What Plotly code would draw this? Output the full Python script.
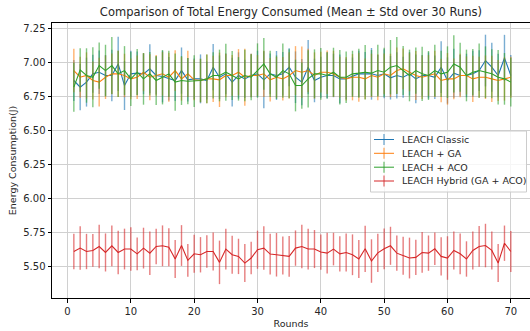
import plotly.graph_objects as go

rounds = list(range(1, 71))

classic_mean = [6.868, 6.819, 6.856, 6.917, 6.929, 6.905, 6.905, 6.990, 6.831, 6.917,
                6.922, 6.917, 6.954, 6.905, 6.897, 6.880, 6.868, 6.941, 6.873, 6.880,
                6.880, 6.868, 6.966, 6.892, 6.917, 6.856, 6.905, 6.880, 6.905, 6.917,
                6.873, 6.917, 6.905, 6.917, 6.966, 6.892, 6.856, 6.966, 6.868, 6.892,
                6.905, 6.905, 6.880, 6.880, 6.897, 6.917, 6.917, 6.917, 6.905, 6.917,
                6.888, 6.905, 6.892, 6.917, 6.880, 6.905, 6.905, 6.892, 6.966, 6.868,
                6.922, 6.905, 6.905, 6.917, 6.941, 7.015, 6.966, 6.905, 7.034, 6.905]
classic_std = [0.15, 0.17, 0.18, 0.14, 0.16, 0.15, 0.19, 0.20, 0.18, 0.17,
               0.16, 0.15, 0.18, 0.14, 0.19, 0.16, 0.15, 0.17, 0.16, 0.15,
               0.18, 0.14, 0.17, 0.16, 0.15, 0.18, 0.17, 0.14, 0.16, 0.17,
               0.21, 0.15, 0.18, 0.16, 0.14, 0.19, 0.17, 0.20, 0.16, 0.15,
               0.17, 0.16, 0.18, 0.15, 0.14, 0.17, 0.16, 0.19, 0.15, 0.18,
               0.16, 0.17, 0.15, 0.16, 0.18, 0.15, 0.17, 0.16, 0.19, 0.17,
               0.18, 0.15, 0.16, 0.17, 0.15, 0.19, 0.18, 0.16, 0.17, 0.15]

ga_mean = [6.941, 6.892, 6.905, 6.868, 6.856, 6.892, 6.917, 6.917, 6.905, 6.880,
           6.892, 6.929, 6.892, 6.905, 6.917, 6.892, 6.941, 6.880, 6.917, 6.873,
           6.868, 6.880, 6.880, 6.873, 6.905, 6.905, 6.929, 6.892, 6.905, 6.905,
           6.917, 6.873, 6.892, 6.880, 6.905, 6.941, 6.929, 6.941, 6.905, 6.929,
           6.929, 6.917, 6.892, 6.880, 6.892, 6.892, 6.880, 6.905, 6.892, 6.917,
           6.905, 6.941, 6.954, 6.929, 6.905, 6.892, 6.905, 6.917, 6.868, 6.880,
           6.880, 6.905, 6.905, 6.880, 6.892, 6.892, 6.880, 6.868, 6.880, 6.892]
ga_std = [0.16, 0.15, 0.17, 0.14, 0.18, 0.16, 0.15, 0.17, 0.16, 0.15,
          0.16, 0.14, 0.17, 0.15, 0.16, 0.18, 0.15, 0.16, 0.17, 0.15,
          0.16, 0.18, 0.17, 0.20, 0.16, 0.15, 0.17, 0.21, 0.16, 0.15,
          0.17, 0.16, 0.15, 0.16, 0.17, 0.18, 0.19, 0.16, 0.17, 0.15,
          0.16, 0.17, 0.15, 0.16, 0.17, 0.18, 0.15, 0.16, 0.17, 0.15,
          0.16, 0.17, 0.15, 0.14, 0.18, 0.16, 0.15, 0.17, 0.16, 0.19,
          0.15, 0.16, 0.14, 0.17, 0.15, 0.16, 0.17, 0.15, 0.16, 0.15]

aco_mean = [6.819, 6.946, 6.905, 6.892, 6.978, 6.941, 6.978, 6.917, 6.941, 6.880,
            6.929, 6.880, 6.917, 6.868, 6.892, 6.917, 6.856, 6.868, 6.863, 6.863,
            6.868, 6.880, 6.905, 6.905, 6.929, 6.905, 6.880, 6.905, 6.892, 6.941,
            6.990, 6.917, 6.892, 6.941, 6.917, 6.831, 6.831, 6.880, 6.917, 6.917,
            6.905, 6.929, 6.892, 6.892, 6.917, 6.922, 6.929, 6.922, 6.941, 6.929,
            6.966, 6.978, 6.941, 6.905, 6.941, 6.917, 6.905, 6.941, 6.917, 6.929,
            6.990, 6.966, 6.905, 6.929, 6.941, 6.929, 6.917, 6.892, 6.880, 6.856]
aco_std = [0.18, 0.16, 0.20, 0.22, 0.17, 0.19, 0.21, 0.17, 0.18, 0.20,
           0.17, 0.19, 0.16, 0.18, 0.20, 0.17, 0.21, 0.18, 0.17, 0.19,
           0.16, 0.18, 0.17, 0.19, 0.21, 0.18, 0.16, 0.19, 0.17, 0.20,
           0.19, 0.17, 0.16, 0.20, 0.18, 0.19, 0.17, 0.21, 0.18, 0.19,
           0.17, 0.18, 0.20, 0.19, 0.17, 0.18, 0.20, 0.17, 0.19, 0.18,
           0.20, 0.21, 0.18, 0.19, 0.17, 0.20, 0.18, 0.19, 0.17, 0.19,
           0.21, 0.18, 0.19, 0.17, 0.20, 0.19, 0.18, 0.20, 0.19, 0.18]

hybrid_mean = [5.610, 5.635, 5.610, 5.618, 5.647, 5.603, 5.652, 5.603, 5.628, 5.628,
               5.593, 5.635, 5.598, 5.647, 5.652, 5.642, 5.555, 5.654, 5.545, 5.593,
               5.586, 5.610, 5.610, 5.530, 5.628, 5.586, 5.574, 5.525, 5.562, 5.623,
               5.635, 5.591, 5.586, 5.581, 5.574, 5.635, 5.647, 5.628, 5.628, 5.606,
               5.598, 5.628, 5.593, 5.603, 5.586, 5.555, 5.630, 5.540, 5.600, 5.630,
               5.652, 5.598, 5.579, 5.562, 5.567, 5.603, 5.598, 5.630, 5.574, 5.562,
               5.618, 5.593, 5.555, 5.618, 5.647, 5.654, 5.618, 5.525, 5.671, 5.610]
hybrid_std = [0.13, 0.16, 0.13, 0.12, 0.16, 0.14, 0.15, 0.16, 0.15, 0.16,
              0.12, 0.15, 0.16, 0.13, 0.15, 0.14, 0.14, 0.15, 0.12, 0.14,
              0.13, 0.12, 0.14, 0.16, 0.15, 0.14, 0.13, 0.14, 0.12, 0.14,
              0.16, 0.15, 0.16, 0.14, 0.15, 0.13, 0.16, 0.15, 0.14, 0.13,
              0.15, 0.12, 0.13, 0.14, 0.15, 0.14, 0.17, 0.16, 0.14, 0.15,
              0.14, 0.13, 0.14, 0.15, 0.13, 0.15, 0.13, 0.12, 0.14, 0.16,
              0.14, 0.15, 0.13, 0.14, 0.15, 0.16, 0.14, 0.14, 0.13, 0.15]

series_names = ["LEACH Classic", "LEACH + GA", "LEACH + ACO", "LEACH Hybrid (GA + ACO)"]
series_means = [classic_mean, ga_mean, aco_mean, hybrid_mean]
series_stds = [classic_std, ga_std, aco_std, hybrid_std]
line_colors = ["#1f77b4", "#ff7f0e", "#2ca02c", "#d62728"]
err_colors = ["rgba(31,119,180,0.6)", "rgba(255,127,14,0.6)",
              "rgba(44,160,44,0.6)", "rgba(214,39,40,0.6)"]

fig = go.Figure()
for name, m, s, col, ecol in zip(series_names, series_means, series_stds, line_colors, err_colors):
    fig.add_trace(go.Scatter(
        x=rounds, y=m, name=name, mode="lines",
        line=dict(color=col, width=1.1),
        error_y=dict(type="data", array=s, visible=True, thickness=1.4, width=0, color=ecol),
    ))

# Plot area geometry in pixels (for the hand-drawn legend box)
L, R, T, B = 52, 530, 23, 298
def px(x):
    return (x - L) / (R - L)
def py(y):
    return (B - y) / (B - T)

shapes = [dict(type="rect", xref="paper", yref="paper",
               x0=px(370.5), x1=px(526.5), y0=py(192), y1=py(131),
               line=dict(color="#cccccc", width=1), fillcolor="rgba(255,255,255,0.8)",
               layer="above")]
annotations = []
entry_y = [139.5, 153.3, 167.2, 181.0]
for name, col, ey in zip(series_names, line_colors, entry_y):
    shapes.append(dict(type="line", xref="paper", yref="paper",
                       x0=px(374), x1=px(394), y0=py(ey), y1=py(ey),
                       line=dict(color=col, width=1), layer="above"))
    shapes.append(dict(type="line", xref="paper", yref="paper",
                       x0=px(384), x1=px(384), y0=py(ey - 5.5), y1=py(ey + 5.5),
                       line=dict(color=col, width=1.2), layer="above", opacity=0.7))
    annotations.append(dict(text=name, xref="paper", yref="paper",
                            x=px(400), y=py(ey), xanchor="left", yanchor="middle",
                            showarrow=False, font=dict(size=9.5, color="#262626")))

font = "DejaVu Sans, Arial, sans-serif"
fig.update_layout(
    width=530, height=331,
    margin=dict(l=52, r=0, t=23, b=33, autoexpand=False),
    paper_bgcolor="white", plot_bgcolor="white",
    font=dict(family=font, size=10, color="#262626"),
    title=dict(text="Comparison of Total Energy Consumed (Mean ± Std over 30 Runs)",
               x=0.549, xanchor="center", y=0.965, yanchor="middle",
               font=dict(size=11.5, color="#262626")),
    showlegend=False,
    shapes=shapes,
    annotations=annotations,
)
fig.update_xaxes(
    range=[-2.45, 73.03], tickmode="array", tickvals=[0, 10, 20, 30, 40, 50, 60, 70],
    showgrid=True, gridcolor="#d0d0d0", gridwidth=1, automargin=False,
    showline=True, linecolor="black", linewidth=1, mirror=True,
    ticks="outside", ticklen=3.5, tickcolor="black", zeroline=False,
    title=dict(text="Rounds", font=dict(size=9.5), standoff=4),
)
fig.update_yaxes(
    range=[5.268, 7.291], tickmode="array",
    tickvals=[5.5, 5.75, 6.0, 6.25, 6.5, 6.75, 7.0, 7.25],
    ticktext=["5.50", "5.75", "6.00", "6.25", "6.50", "6.75", "7.00", "7.25"],
    showgrid=True, gridcolor="#d0d0d0", gridwidth=1, automargin=False,
    showline=True, linecolor="black", linewidth=1, mirror=False,
    ticks="outside", ticklen=3.5, tickcolor="black", zeroline=False,
    title=dict(text="Energy Consumption(J)", font=dict(size=9.5), standoff=4),
)

fig.write_html("out.html", config={"displayModeBar": False},
               post_script="document.body.style.margin='0px';document.body.style.overflow='hidden';")
